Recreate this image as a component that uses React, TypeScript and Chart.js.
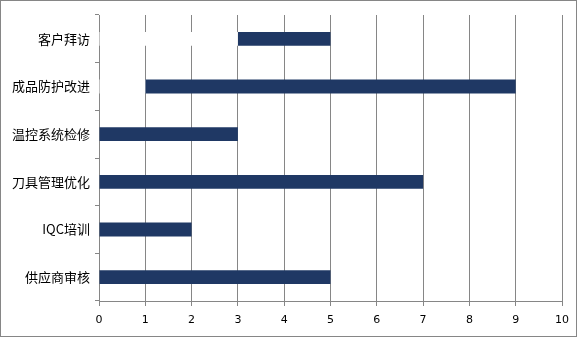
import React, { useEffect, useRef } from "react";
import { Chart, registerables } from "chart.js";

Chart.register(...registerables);

const categories = ["客户拜访", "成品防护改进", "温控系统检修", "刀具管理优化", "IQC培训", "供应商审核"];
const startValues = [3, 1, 0, 0, 0, 0];
const durationValues = [2, 8, 3, 7, 2, 5];
const xMin = 0;
const xMax = 10;

const borderPlugin = {
  id: "outerBorder",
  afterDraw(chart: any) {
    const ctx = chart.ctx;
    ctx.save();
    ctx.strokeStyle = "#868686";
    ctx.lineWidth = 1;
    ctx.strokeRect(0.5, 0.5, chart.width - 1, chart.height - 1);
    ctx.restore();
  },
};

export default function App() {
  const ref = useRef<HTMLCanvasElement>(null);
  useEffect(() => {
    document.body.style.margin = "0";
    const chart = new Chart(ref.current!, {
      type: "bar",
      data: {
        labels: categories,
        datasets: [
          {
            label: "开始",
            data: startValues,
            backgroundColor: "#ffffff",
            barPercentage: 0.58,
            categoryPercentage: 0.5,
          },
          {
            label: "天数",
            data: durationValues,
            backgroundColor: "#1F3864",
            barPercentage: 0.58,
            categoryPercentage: 0.5,
          },
        ],
      },
      options: {
        indexAxis: "y",
        responsive: false,
        animation: false,
        layout: { padding: { top: 15, right: 15, left: 0, bottom: 0 } },
        plugins: { legend: { display: false }, tooltip: { enabled: false } },
        scales: {
          x: {
            stacked: true,
            min: xMin,
            max: xMax,
            ticks: {
              stepSize: 1,
              color: "#000",
              padding: 8,
              font: { family: "DejaVu Sans", size: 11 },
            },
            grid: { color: "#868686", lineWidth: 1, drawTicks: true, tickLength: 5 },
            border: { display: true, color: "#868686" },
            afterFit: (s: any) => {
              s.height = 36;
            },
          },
          y: {
            stacked: true,
            ticks: {
              color: "#000",
              padding: 5,
              font: { family: "Noto Sans CJK SC", size: 13 },
            },
            grid: { drawOnChartArea: false, drawTicks: true, tickLength: 4, color: "#868686", offset: true },
            border: { display: true, color: "#868686" },
            afterFit: (s: any) => {
              s.width = 99;
            },
          },
        },
      },
      plugins: [borderPlugin],
    });
    return () => chart.destroy();
  }, []);
  return <canvas ref={ref} width={577} height={337} style={{ display: "block" }} />;
}
